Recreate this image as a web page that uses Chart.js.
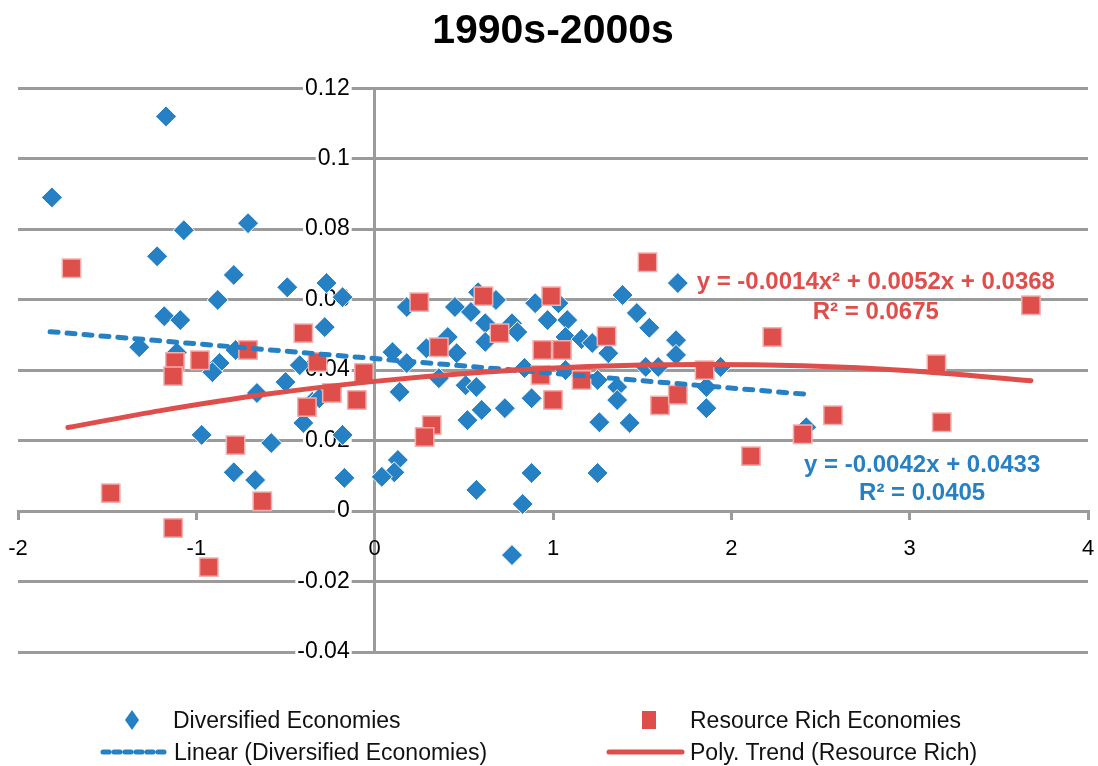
<!DOCTYPE html>
<html>
<head>
<meta charset="utf-8">
<script src="https://cdn.jsdelivr.net/npm/chart.js@4.4.1/dist/chart.umd.min.js"></script>
<style>
  body { margin: 0; background: #fff; font-family: "Liberation Sans", Arial, sans-serif; }
  #wrap { position: relative; width: 1098px; height: 766px; }
  .lg { position: absolute; font-size: 23px; line-height: 26px; color: #111; white-space: nowrap; }
  .ic { position: absolute; }
</style>
</head>
<body>
<div id="wrap">
  <canvas id="myChart" width="1098" height="766"></canvas>
  <div id="legend"></div>
</div>
<script>
  // Diversified economies (blue diamonds)
  const divX = [-1.81, -1.17, -1.07, -1.22, -0.71, -0.79, -1.18, -1.09, -0.88, -1.32,
    -1.11, -0.87, -0.91, -0.78, -0.49, -0.27, -0.28, -0.66, -0.50, -0.42,
    -0.35, -0.40, -0.18, -0.58, -0.97, -0.79, -0.67, -0.17, -0.31, -0.18,
    0.18, 0.45, 0.54, 0.58, 0.68, 0.62, 0.62, 0.77, 0.80, 0.90,
    0.97, 1.03, 1.08, 1.07, 1.16, 1.22, 1.39, 1.47, 1.54, 1.69,
    1.69, 1.70, 1.31, 0.10, 0.18, 0.29, 0.41, 0.46, 0.36, 0.14,
    0.51, 0.57, 0.60, 0.52, 0.73, 0.88, 0.84, 1.07, 1.25, 1.36,
    1.36, 1.26, 1.43, 1.52, 1.59, 1.86, 1.86, 1.94, 0.13, 0.11,
    0.04, 0.57, 0.88, 0.83, 0.77, 1.25, 2.42];
  const divY = [0.089, 0.112, 0.0797, 0.0723, 0.0817, 0.067, 0.0553, 0.0542, 0.0599, 0.0465,
    0.045, 0.042, 0.0394, 0.0457, 0.0635, 0.0647, 0.0522, 0.0335, 0.0366, 0.0414,
    0.031, 0.025, 0.0216, 0.0193, 0.0216, 0.011, 0.0088, 0.0094, 0.032, 0.0607,
    0.0579, 0.0579, 0.0565, 0.0621, 0.0599, 0.0533, 0.048, 0.0533, 0.0508, 0.059,
    0.0542, 0.059, 0.0542, 0.0494, 0.0488, 0.0477, 0.0613, 0.0562, 0.052, 0.0485,
    0.0443, 0.0647, 0.0448, 0.0451, 0.042, 0.0462, 0.0494, 0.0448, 0.0377, 0.0338,
    0.0357, 0.0352, 0.0287, 0.0258, 0.0292, 0.032, 0.0406, 0.040, 0.0372, 0.0352,
    0.0315, 0.0252, 0.025, 0.0409, 0.0409, 0.0352, 0.0292, 0.0409, 0.0145, 0.011,
    0.0097, 0.006, 0.0108, 0.002, -0.0125, 0.0108, 0.0238];

  // Resource rich economies (red squares)
  const resX = [-1.70, -1.12, -1.13, -0.98, -0.71, -0.78, -1.48, -1.13, -0.93, -0.63,
    -0.40, -0.32, -0.24, -0.38, -0.10, -0.06, 0.25, 0.61, 0.99, 1.53,
    1.30, 0.36, 0.70, 0.94, 1.05, 0.93, 1.16, 0.32, 0.28, 1.00,
    1.60, 1.70, 1.85, 3.68, 2.23, 3.15, 3.18, 2.57, 2.40, 2.11];
  const resY = [0.0689, 0.0423, 0.0383, 0.0428, 0.0457, 0.0187, 0.0051, -0.0048, -0.0159, 0.0028,
    0.0505, 0.0423, 0.0335, 0.0295, 0.0315, 0.0392, 0.0593, 0.061, 0.061, 0.0706,
    0.0496, 0.0465, 0.0505, 0.0457, 0.0457, 0.0386, 0.0372, 0.0244, 0.021, 0.0315,
    0.030, 0.033, 0.040, 0.0584, 0.0494, 0.0417, 0.0252, 0.0272, 0.0218, 0.0156];

  // Trend lines as drawn
  const linX = [-1.82, 2.43];
  const linY = [0.0509, 0.0331];
  const polyX = [-1.72, -1.2, -0.6, 0, 0.6, 1.2, 1.8, 2.4, 3.0, 3.68];
  const polyY = [0.0237, 0.0285, 0.0332, 0.0368, 0.0394, 0.0410, 0.0416, 0.0412, 0.0398, 0.0370];

  const BLUE = '#2581C4';
  const RED = '#DE4E4B';
  const GRID = '#9b9b9b';
  const FONT = '"Liberation Sans", Arial, sans-serif';

  const toPts = (xs, ys) => xs.map((x, i) => ({ x: x, y: ys[i] }));

  const eqLabels = [
    { text: 'y = -0.0014x² + 0.0052x + 0.0368', x: 2.81, y: 0.065, color: RED },
    { text: 'R² = 0.0675', x: 2.81, y: 0.0565, color: RED },
    { text: 'y = -0.0042x + 0.0433', x: 3.07, y: 0.013, color: BLUE },
    { text: 'R² = 0.0405', x: 3.07, y: 0.0051, color: BLUE }
  ];

  const eqPlugin = {
    id: 'eqLabels',
    afterDatasetsDraw(chart) {
      const { ctx, scales: { x, y } } = chart;
      ctx.save();
      ctx.font = 'bold 24px ' + FONT;
      ctx.textAlign = 'center';
      ctx.textBaseline = 'middle';
      eqLabels.forEach(e => {
        ctx.fillStyle = e.color;
        ctx.fillText(e.text, x.getPixelForValue(e.x), y.getPixelForValue(e.y));
      });
      ctx.restore();
    }
  };

  const ctx = document.getElementById('myChart');

  const myChart = new Chart(ctx, {
    type: 'scatter',
    data: {
      datasets: [{
        label: 'Poly. Trend (Resource Rich)',
        data: toPts(polyX, polyY),
        showLine: true,
        tension: 0.3,
        borderColor: RED,
        borderWidth: 5,
        borderCapStyle: 'round',
        pointRadius: 0,
        order: 0
      }, {
        label: 'Linear (Diversified Economies)',
        data: toPts(linX, linY),
        showLine: true,
        borderColor: BLUE,
        borderWidth: 5,
        borderDash: [8, 9],
        borderCapStyle: 'round',
        pointRadius: 0,
        order: 1
      }, {
        label: 'Resource Rich Economies',
        data: toPts(resX, resY),
        pointStyle: 'rect',
        pointRadius: 13,
        backgroundColor: RED,
        borderColor: '#F3B0AE',
        borderWidth: 1.5,
        order: 2
      }, {
        label: 'Diversified Economies',
        data: toPts(divX, divY),
        pointStyle: 'rectRot',
        pointRadius: 10.5,
        backgroundColor: BLUE,
        borderColor: '#ffffff',
        borderWidth: 1,
        order: 3
      }]
    },
    options: {
      responsive: false,
      animation: false,
      layout: { autoPadding: false, padding: { left: 18, right: 10, top: 4, bottom: 114 } },
      plugins: {
        legend: { display: false },
        tooltip: { enabled: false },
        title: {
          display: true,
          text: '1990s-2000s',
          color: '#000',
          font: { family: FONT, size: 41, weight: 'bold' },
          padding: { top: 3, bottom: 32 }
        }
      },
      scales: {
        x: {
          type: 'linear',
          min: -2,
          max: 4,
          position: { y: 0 },
          afterFit(scale) {
            scale.height = 0;
            scale.paddingLeft = 0;
            scale.paddingRight = 0;
          },
          ticks: { stepSize: 1, color: '#000', font: { family: FONT, size: 22 }, padding: 18 },
          grid: {
            drawOnChartArea: true,
            color: c => (c.tick && c.tick.value === 0 ? GRID : 'rgba(0,0,0,0)'),
            tickColor: GRID,
            drawTicks: true,
            tickLength: 7,
            lineWidth: 3
          },
          border: { color: GRID, width: 3 }
        },
        y: {
          min: -0.04,
          max: 0.12,
          // labels sit just left of the vertical axis at x = 0
          position: { x: -0.14 },
          afterFit(scale) {
            scale.width = 0;
            scale.paddingTop = 0;
            scale.paddingBottom = 0;
          },
          ticks: {
            stepSize: 0.02,
            color: '#000',
            font: { family: FONT, size: 23 },
            callback: v => String(+v.toFixed(2)),
            showLabelBackdrop: true,
            backdropColor: '#fff',
            backdropPadding: { top: 0, bottom: 0, left: 2, right: 2 }
          },
          grid: { color: GRID, lineWidth: 3, drawTicks: false },
          border: { display: false }
        }
      }
    },
    plugins: [eqPlugin]
  });

  // Legend laid out in two columns like the original
  const legendSlots = [
    { label: 'Diversified Economies', icon: 'diamond', ix: 132, tx: 173, cy: 720 },
    { label: 'Resource Rich Economies', icon: 'square', ix: 649, tx: 690, cy: 720 },
    { label: 'Linear (Diversified Economies)', icon: 'dash', ix: 100, tx: 174, cy: 752 },
    { label: 'Poly. Trend (Resource Rich)', icon: 'line', ix: 606, tx: 690, cy: 752 }
  ];
  const legendEl = document.getElementById('legend');
  legendSlots.forEach(s => {
    const ds = myChart.data.datasets.find(d => d.label === s.label);
    const col = ds.backgroundColor || ds.borderColor;
    let svg;
    if (s.icon === 'diamond') {
      svg = '<svg class="ic" style="left:' + (s.ix - 8) + 'px;top:' + (s.cy - 10) + 'px" width="16" height="20"><polygon points="8,0 15,10 8,20 1,10" fill="' + col + '"/></svg>';
    } else if (s.icon === 'square') {
      svg = '<svg class="ic" style="left:' + (s.ix - 7) + 'px;top:' + (s.cy - 9) + 'px" width="14" height="18"><rect x="0" y="0" width="14" height="18" fill="' + col + '"/></svg>';
    } else if (s.icon === 'dash') {
      svg = '<svg class="ic" style="left:' + s.ix + 'px;top:' + (s.cy - 5) + 'px" width="70" height="10"><line x1="3" y1="5" x2="66" y2="5" stroke="' + col + '" stroke-width="5" stroke-dasharray="6 5" stroke-linecap="round"/></svg>';
    } else {
      svg = '<svg class="ic" style="left:' + s.ix + 'px;top:' + (s.cy - 5) + 'px" width="80" height="10"><line x1="3" y1="5" x2="76" y2="5" stroke="' + col + '" stroke-width="5" stroke-linecap="round"/></svg>';
    }
    legendEl.insertAdjacentHTML('beforeend', svg +
      '<div class="lg" style="left:' + s.tx + 'px;top:' + (s.cy - 13) + 'px">' + s.label + '</div>');
  });
</script>
</body>
</html>
